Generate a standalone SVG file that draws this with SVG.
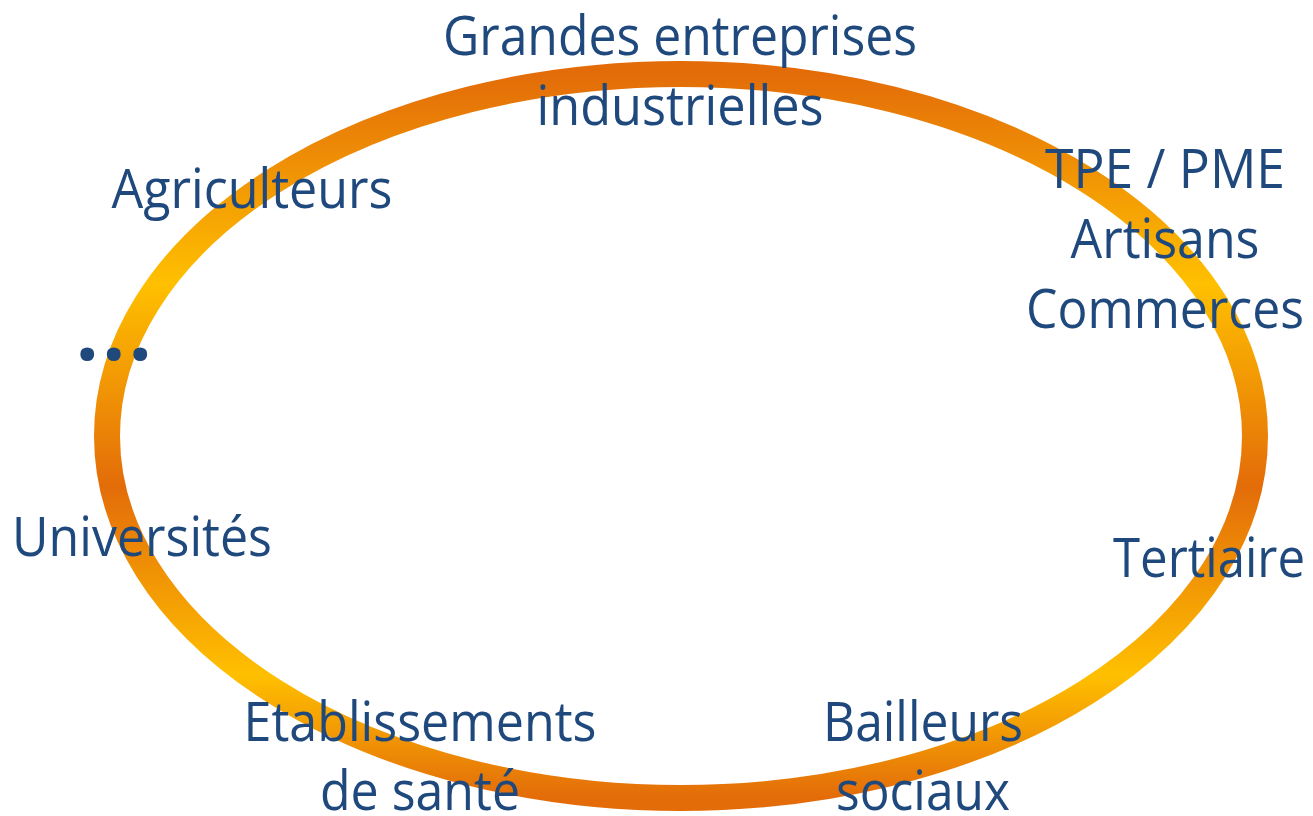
<svg xmlns="http://www.w3.org/2000/svg" width="1313" height="816" viewBox="0 0 1313 816">
<style>
.t{font-family:"Open Sans","Noto Sans","Liberation Sans",sans-serif;font-size:54px;fill:#1F497D;text-anchor:middle}
.d{font-family:"Noto Sans","Open Sans",sans-serif;font-weight:bold;font-size:80px;fill:#1F497D;letter-spacing:4px}
</style>
<defs>
<linearGradient id="ring" gradientUnits="userSpaceOnUse" x1="0" y1="74" x2="0" y2="798">
<stop offset="0" stop-color="#E36C09"/>
<stop offset="0.29" stop-color="#FFC000"/>
<stop offset="0.57" stop-color="#E36C09"/>
<stop offset="0.83" stop-color="#FFC000"/>
<stop offset="1" stop-color="#E36C09"/>
</linearGradient>
</defs>
<g id="connectors">
<ellipse cx="681" cy="436" rx="574" ry="362" fill="none" stroke="url(#ring)" stroke-width="26"/>
</g>
<g id="grandes"><text class="t" x="680" y="55" textLength="474" lengthAdjust="spacingAndGlyphs">Grandes entreprises</text><text class="t" x="680" y="125" textLength="287" lengthAdjust="spacingAndGlyphs">industrielles</text></g>
<g id="agriculteurs"><text class="t" x="252" y="208" textLength="281" lengthAdjust="spacingAndGlyphs">Agriculteurs</text></g>
<g id="tpe"><text class="t" x="1165" y="188" textLength="240" lengthAdjust="spacingAndGlyphs">TPE / PME</text><text class="t" x="1165" y="258" textLength="189" lengthAdjust="spacingAndGlyphs">Artisans</text><text class="t" x="1165" y="328" textLength="278" lengthAdjust="spacingAndGlyphs">Commerces</text></g>
<g id="etc"><text class="d" x="76" y="360">...</text></g>
<g id="universites"><text class="t" x="142" y="556" textLength="260" lengthAdjust="spacingAndGlyphs">Universités</text></g>
<g id="tertiaire"><text class="t" x="1209" y="577" textLength="192" lengthAdjust="spacingAndGlyphs">Tertiaire</text></g>
<g id="sante"><text class="t" x="420" y="741" textLength="353" lengthAdjust="spacingAndGlyphs">Etablissements</text><text class="t" x="420" y="810" textLength="200" lengthAdjust="spacingAndGlyphs">de santé</text></g>
<g id="bailleurs"><text class="t" x="923" y="741" textLength="200" lengthAdjust="spacingAndGlyphs">Bailleurs</text><text class="t" x="923" y="810" textLength="174" lengthAdjust="spacingAndGlyphs">sociaux</text></g>
</svg>
